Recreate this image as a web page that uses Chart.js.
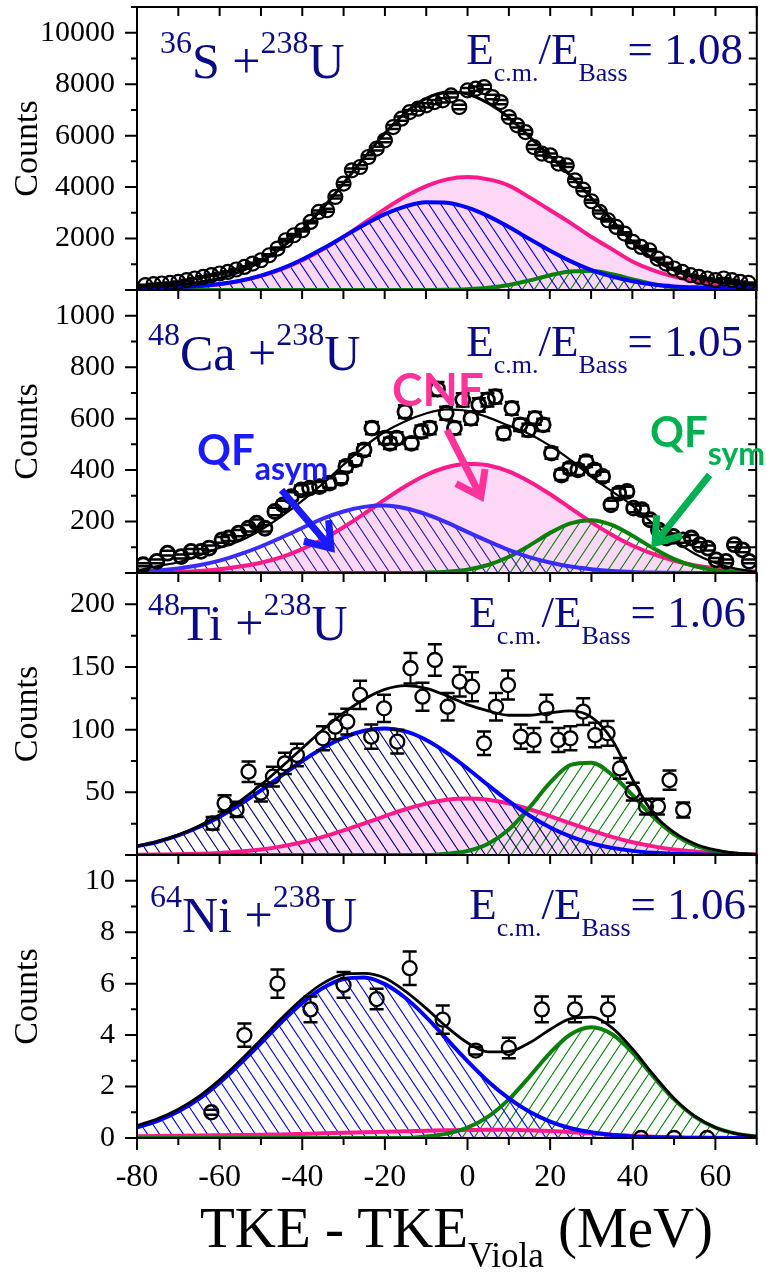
<!DOCTYPE html>
<html>
<head>
<meta charset="utf-8">
<title>TKE - TKE(Viola) distributions</title>
<script src="https://cdn.jsdelivr.net/npm/chart.js@4.4.1/dist/chart.umd.min.js"></script>
<style>
  html, body { margin: 0; padding: 0; background: #fff; }
  #page { position: relative; width: 766px; height: 1272px; overflow: hidden; }
  #page canvas { position: absolute; left: 0; }
  .txt { position: absolute; white-space: nowrap; line-height: 1; font-family: 'Liberation Serif', 'Times New Roman', serif; color: #0b0b85; }
  .tag { position: absolute; white-space: nowrap; line-height: 1; font-family: Lato, 'Open Sans', sans-serif; font-weight: 700; }
  .up { position: relative; }
</style>
</head>
<body>
<div id="page">
  <canvas id="c1"></canvas>
  <canvas id="c2"></canvas>
  <canvas id="c3"></canvas>
  <canvas id="c4"></canvas>

  <!-- reaction / energy labels -->
  <div class="txt" style="left:160px;top:36px;font-size:50px"><span class="up" style="font-size:32px;top:-25px">36</span>S +<span class="up" style="font-size:32px;top:-25px">238</span>U</div>
  <div class="txt" style="right:23px;top:27px;font-size:45px">E<span class="up" style="font-size:26px;top:17px">c.m.</span>/E<span class="up" style="font-size:26px;top:17px">Bass</span>= 1.08</div>

  <div class="txt" style="left:148px;top:328px;font-size:50px"><span class="up" style="font-size:32px;top:-25px">48</span>Ca +<span class="up" style="font-size:32px;top:-25px">238</span>U</div>
  <div class="txt" style="right:23px;top:319px;font-size:45px">E<span class="up" style="font-size:26px;top:17px">c.m.</span>/E<span class="up" style="font-size:26px;top:17px">Bass</span>= 1.05</div>

  <div class="txt" style="left:148px;top:598px;font-size:50px"><span class="up" style="font-size:32px;top:-25px">48</span>Ti +<span class="up" style="font-size:32px;top:-25px">238</span>U</div>
  <div class="txt" style="right:20px;top:590px;font-size:45px">E<span class="up" style="font-size:26px;top:17px">c.m.</span>/E<span class="up" style="font-size:26px;top:17px">Bass</span>= 1.06</div>

  <div class="txt" style="left:150px;top:890px;font-size:50px"><span class="up" style="font-size:32px;top:-25px">64</span>Ni +<span class="up" style="font-size:32px;top:-25px">238</span>U</div>
  <div class="txt" style="right:20px;top:882px;font-size:45px">E<span class="up" style="font-size:26px;top:17px">c.m.</span>/E<span class="up" style="font-size:26px;top:17px">Bass</span>= 1.06</div>

  <!-- component tags on the 48Ca panel -->
  <div class="tag" style="left:392px;top:366px;font-size:46px;color:#ff3399">CNF</div>
  <div class="tag" style="left:197px;top:428px;font-size:42px;color:#1a1aff">QF<span class="up" style="font-size:32px;top:15px">asym</span></div>
  <div class="tag" style="left:650px;top:410px;font-size:42px;color:#00b050">QF<span class="up" style="font-size:32px;top:18px">sym</span></div>

  <!-- x axis title -->
  <div class="txt" style="left:200px;top:1199px;font-size:57px;color:#000">TKE - TKE<span class="up" style="font-size:35px;top:20px">Viola</span> (MeV)</div>
</div>

<script>
// energy grid of the fitted curves, MeV
const fitX = [-80,-75,-70,-65,-60,-55,-50,-45,-40,-35,-30,-25,-20,-15,-10,-5,0,5,10,15,20,25,30,35,40,45,50,55,60,65,70];
const xTickLabels = [-80,-60,-40,-20,0,20,40,60];

// 36S + 238U
const s36X = [-78,-76,-74,-72,-70,-68,-66,-64,-62,-60,-58,-56,-54,-52,-50,-48,-46,-44,-42,-40,-38,-36,-34,-32,-30,-28,-26,-24,-22,-20,-18,-16,-14,-12,-10,-8,-6,-4,-2,0,2,4,6,8,10,12,14,16,18,20,22,24,26,28,30,32,34,36,38,40,42,44,46,48,50,52,54,56,58,60,62,64,66,68];
const s36Counts = [186,225,252,276,315,381,447,509,575,641,703,796,897,1029,1157,1351,1612,1934,2128,2322,2645,3033,3099,3616,4136,4652,4780,5169,5495,5817,6334,6660,6917,7049,7177,7305,7371,7565,7112,7759,7824,7888,7500,7305,6722,6400,6140,5557,5300,5235,4913,4847,4264,3900,3450,3033,2711,2451,2194,1868,1674,1546,1223,1029,835,703,575,509,447,381,447,381,315,276];
const s36Err = [14,15,16,17,18,20,21,23,24,25,27,28,30,32,34,37,40,44,46,48,51,55,56,60,64,68,69,72,74,76,80,82,83,84,85,85,86,87,84,88,88,89,87,85,82,80,78,75,73,72,70,70,65,62,59,55,52,50,47,43,41,39,35,32,29,27,24,23,21,20,21,20,18,17];
const s36Cnf = [50,65,95,145,225,355,547,812,1158,1582,2074,2608,3146,3640,4040,4300,4390,4300,4060,3600,3100,2600,2060,1580,1100,760,520,340,225,150,110];
const s36QfAsym = [60,80,110,155,230,360,560,832,1187,1611,2074,2537,2948,3252,3406,3389,3201,2873,2447,1981,1522,1111,771,520,340,210,140,105,90,80,70];
const s36QfSym = [0,0,0,0,0,0,0,0,0,0,0,0,0,0,2,8,29,84,196,373,576,723,738,613,413,227,101,37,11,3,0];
const s36Total = [110,145,205,300,455,715,1107,1644,2345,3193,4148,5145,6094,6892,7448,7697,7620,7257,6703,5954,5198,4434,3569,2713,1853,1197,761,482,326,233,180];
const s36YLabels = [2000,4000,6000,8000,10000];

// 48Ca + 238U
const ca48X = [-78.5,-75.2,-72.6,-69.3,-66.9,-64.5,-62.5,-59.4,-57.8,-55.4,-53,-51,-49,-46.6,-44.6,-42.6,-40.2,-38.2,-35.8,-33.4,-30.6,-29.4,-27.1,-25,-23.1,-19.9,-18.7,-17.1,-15.1,-13.5,-11.1,-9.1,-7.2,-5.1,-3.1,-1.1,0.9,2.8,4.9,6.8,8.8,10.8,12.8,14.8,16.4,18.4,20.4,22.8,24.8,26.8,28.8,30.8,32.8,34.8,36.7,38.7,40.3,42.3,44.3,46.3,48.3,49.9,52.3,54.3,56.3,58.3,60.3,62.7,64.7,66.7,68.3];
const ca48Counts = [32,45,77,64,84,84,97,129,136,155,174,194,174,239,265,297,323,330,336,349,368,414,440,478,563,524,504,524,627,504,550,563,715,621,563,673,601,653,673,685,543,640,576,556,601,576,466,381,407,401,433,401,375,265,310,317,252,246,207,168,136,142,129,136,110,97,51,45,110,90,45];
const ca48Err = [6,7,9,8,9,9,10,11,12,12,13,14,13,15,16,17,18,18,18,19,19,20,21,22,24,23,22,23,25,22,23,24,27,25,24,26,25,26,26,26,23,25,24,24,25,24,22,20,20,20,21,20,19,16,18,18,16,16,14,13,12,12,11,12,10,10,7,7,10,9,7];
const ca48Cnf = [1,2,4,8,15,25,40,62,93,131,178,230,285,337,381,411,425,419,395,356,307,252,198,149,107,74,48,30,18,10,6];
const ca48QfAsym = [5,10,18,30,48,73,103,138,175,211,239,257,262,252,229,197,160,124,90,62,41,25,15,8,4,2,1,0,0,0,0];
const ca48QfSym = [0,0,0,0,0,0,0,0,0,0,0,0,0,0,2,5,13,31,62,106,155,193,205,187,145,97,55,27,11,4,1];
const ca48Total = [10,27,42,68,98,125,167,220,280,347,420,490,548,590,620,636,630,605,573,540,495,440,375,318,262,192,130,76,40,17,5];
const ca48YLabels = [200,400,600,800,1000];
// arrows from the component tags, in (MeV, counts)
const ca48Arrows = [
  { x0: -45.0, y0: 323, x1: -33.0, y1: 97, color: '#1a1aff' },
  { x0: -4.9, y0: 556, x1: 3.3, y1: 297, color: '#ff3399' },
  { x0: 58.7, y0: 381, x1: 45.5, y1: 116, color: '#00b050' }
];

// 48Ti + 238U
const ti48X = [-61.7,-58.8,-55.9,-53,-50,-47.1,-44.2,-41.3,-35,-32,-29.1,-26,-23.3,-20.2,-17,-13.8,-10.9,-7.9,-4.8,-1.9,1.1,4,6.9,9.8,12.9,16,19.1,22,24.9,28,30.9,33.9,36.9,40,43.2,46.1,48.9,52.2];
const ti48Counts = [25.3,41.2,36.4,66.5,49.7,62.5,73.1,79.8,93.1,102.4,106.4,127.7,94.4,117,90.4,149,126.3,155.6,118.3,138.3,134.3,89.1,118.3,135.6,94.4,91.8,117,91.8,93.1,114.4,95.7,97.1,69.1,50.5,38.6,38.6,59.8,35.9];
const ti48Err = [5,6.4,6,8.2,7,7.9,8.5,8.9,9.6,10.1,10.3,11.3,9.7,10.8,9.5,12.2,11.2,12.5,10.9,11.8,11.6,9.4,10.9,11.6,9.7,9.6,10.8,9.6,9.6,10.7,9.8,9.9,8.3,7.1,6.2,6.2,7.7,6];
const ti48Cnf = [0.1,0.3,0.5,0.9,1.6,2.7,4.4,6.9,10.2,14.5,19.6,25.2,31.1,36.5,41,44,45,44,41,36.5,31.1,25.2,19.6,14.5,10.2,6.9,4.4,2.7,1.6,0.9,0.5];
const ti48QfAsym = [6.9,10.6,15.6,22.3,30.6,40.5,51.6,63.4,75,85.4,93.7,99.1,101,98.6,91.8,81.5,69,55.7,42.9,31.5,22,14.7,9.3,5.7,3.3,1.8,0.9,0.5,0.2,0.1,0];
const ti48QfSym = [0,0,0,0,0,0,0,0,0,0,0,0,0,0,0,1,3.2,9,20.3,37.9,57.7,71.9,73.6,63.9,47.5,30.2,16.4,7.6,3,1,0.3];
const ti48Total = [7,10.9,16.1,23.2,32.2,43.2,56,70.3,85.2,99.9,113.3,124.3,132.1,135.1,133,127,120,115,111.5,111.5,113.5,115,110,92,60,33,18,9,4,1.5,0.5];
const ti48YLabels = [50,100,150,200];

// 64Ni + 238U
const ni64X = [-62,-54,-46,-38,-30,-22,-14,-6,2,10,18,26,34,42,50,58];
const ni64Counts = [1,4,6,5,5.95,5.4,6.6,4.6,3.4,3.5,5,5,5,0,0,0];
const ni64Err = [0.1,0.45,0.55,0.5,0.5,0.4,0.65,0.55,0.15,0.4,0.5,0.5,0.5,0,0,0];
const ni64Cnf = [0.07,0.08,0.09,0.1,0.11,0.12,0.13,0.14,0.16,0.18,0.2,0.22,0.24,0.26,0.28,0.3,0.31,0.32,0.32,0.3,0.27,0.23,0.18,0.13,0.08,0.05,0.03,0.02,0.01,0,0];
const ni64QfAsym = [0.41,0.67,1.03,1.52,2.15,2.89,3.69,4.51,5.25,5.83,6.18,6.24,5.98,5.44,4.7,3.84,2.99,2.2,1.54,1.02,0.64,0.38,0.22,0.12,0.06,0.03,0.01,0,0,0,0];
const ni64QfSym = [0,0,0,0,0,0,0,0,0,0,0,0,0,0,0.06,0.17,0.4,0.83,1.5,2.38,3.31,4.03,4.3,4.03,3.31,2.38,1.5,0.83,0.4,0.17,0.06];
const ni64Total = [0.48,0.75,1.12,1.62,2.26,3.01,3.82,4.65,5.41,6.01,6.36,6.4,6.22,5.7,5.04,4.31,3.7,3.35,3.36,3.7,4.22,4.64,4.7,4.28,3.45,2.46,1.54,0.85,0.41,0.17,0.06];
const ni64YLabels = [0,2,4,6,8,10];

const SERIF = "'Liberation Serif', 'Times New Roman', serif";
const PAD = 14;

Chart.defaults.font.family = SERIF;
Chart.defaults.color = '#000';

function pts(xs, ys) {
  return xs.map((x, i) => ({ x: x, y: ys[i] }));
}

// diagonal line pattern used for the QF areas; dir > 0 gives '/', otherwise '\'
function hatch(color, dir) {
  const w = 12, h = 18;
  const c = document.createElement('canvas');
  c.width = w; c.height = h;
  const g = c.getContext('2d');
  g.strokeStyle = color;
  g.lineWidth = 1.1;
  g.beginPath();
  for (let k = -1; k <= 1; k++) {
    if (dir > 0) { g.moveTo(k * w, h); g.lineTo(k * w + w, 0); }
    else { g.moveTo(k * w, 0); g.lineTo(k * w + w, h); }
  }
  g.stroke();
  return g.createPattern(c, 'repeat');
}

function curve(ys, color, width, order, fill) {
  return {
    data: pts(fitX, ys),
    borderColor: color,
    borderWidth: width,
    pointRadius: 0,
    cubicInterpolationMode: 'monotone',
    fill: fill ? 'origin' : false,
    backgroundColor: fill || 'rgba(0,0,0,0)',
    order: order
  };
}

// frame, inward/outward ticks, error bars and arrows
const framePlugin = {
  id: 'frame',
  afterDatasetsDraw(chart, args, opts) {
    const { ctx, chartArea: a, scales: { x, y } } = chart;
    ctx.save();
    ctx.beginPath();
    ctx.rect(a.left, a.top, a.right - a.left, a.bottom - a.top);
    ctx.clip();
    ctx.strokeStyle = '#000';
    chart.data.datasets.forEach((ds, i) => {
      if (!ds.errors) return;
      const r = ds.pointRadius;
      chart.getDatasetMeta(i).data.forEach((pt, j) => {
        const e = ds.errors[j];
        if (!e) return;
        const v = ds.data[j].y;
        const hi = y.getPixelForValue(v + e);
        const lo = y.getPixelForValue(v - e);
        ctx.lineWidth = 2;
        ctx.beginPath();
        if (pt.y - hi > r) {
          ctx.moveTo(pt.x, pt.y - r); ctx.lineTo(pt.x, hi);
          ctx.moveTo(pt.x, pt.y + r); ctx.lineTo(pt.x, lo);
        }
        ctx.stroke();
        ctx.lineWidth = 2.5;
        ctx.beginPath();
        ctx.moveTo(pt.x - 7, hi); ctx.lineTo(pt.x + 7, hi);
        ctx.moveTo(pt.x - 7, lo); ctx.lineTo(pt.x + 7, lo);
        ctx.stroke();
      });
    });
    ctx.restore();

    (opts.arrows || []).forEach(ar => {
      const x0 = x.getPixelForValue(ar.x0), y0 = y.getPixelForValue(ar.y0);
      const x1 = x.getPixelForValue(ar.x1), y1 = y.getPixelForValue(ar.y1);
      const ang = Math.atan2(y1 - y0, x1 - x0);
      const L = 28, spread = 0.62;
      ctx.save();
      ctx.strokeStyle = ar.color;
      ctx.lineWidth = 7;
      ctx.lineJoin = 'miter';
      ctx.beginPath();
      ctx.moveTo(x0, y0); ctx.lineTo(x1 - 3 * Math.cos(ang), y1 - 3 * Math.sin(ang));
      ctx.moveTo(x1 - L * Math.cos(ang - spread), y1 - L * Math.sin(ang - spread));
      ctx.lineTo(x1, y1);
      ctx.lineTo(x1 - L * Math.cos(ang + spread), y1 - L * Math.sin(ang + spread));
      ctx.stroke();
      ctx.restore();
    });
  },
  afterDraw(chart, args, opts) {
    const { ctx, chartArea: a, scales: { x, y } } = chart;
    ctx.save();
    ctx.strokeStyle = '#000';
    ctx.lineWidth = 2;
    ctx.strokeRect(a.left, a.top, a.right - a.left, a.bottom - a.top);
    ctx.beginPath();
    x.ticks.forEach(t => {
      const px = x.getPixelForValue(t.value);
      ctx.moveTo(px, a.top); ctx.lineTo(px, a.top + 9);
      if (opts.bottomTicks) {
        ctx.moveTo(px, a.bottom); ctx.lineTo(px, a.bottom + (t.value % 20 === 0 ? 12 : 7));
      }
    });
    y.ticks.forEach(t => {
      const py = y.getPixelForValue(t.value);
      const major = t.value % opts.yMajor === 0;
      ctx.moveTo(a.left, py); ctx.lineTo(a.left - (major ? 12 : 6), py);
      ctx.moveTo(a.right, py); ctx.lineTo(a.right - 8, py);
    });
    ctx.stroke();
    ctx.restore();
  }
};

function makePanel(cfg) {
  const cv = document.getElementById(cfg.id);
  const h = cfg.last ? 1272 - (cfg.top - PAD) : cfg.bottom - cfg.top + 2 * PAD;
  cv.width = 766; cv.height = h;
  cv.style.width = '766px'; cv.style.height = h + 'px';
  cv.style.top = (cfg.top - PAD) + 'px';

  const xScale = {
    type: 'linear', min: -80, max: 70, display: !!cfg.last,
    grid: { display: false, drawTicks: false }, border: { display: false },
    ticks: {
      stepSize: 10, autoSkip: false, maxRotation: 0, padding: 20, color: '#000',
      font: { family: SERIF, size: 32 },
      callback: v => xTickLabels.includes(v) ? String(v) : ''
    }
  };
  if (cfg.last) {
    xScale.afterFit = s => { s.height = 1272 - cfg.bottom; s.paddingLeft = 0; s.paddingRight = 0; };
  }

  return new Chart(cv, {
    type: 'line',
    data: {
      datasets: [
        {
          data: pts(cfg.x, cfg.counts), errors: cfg.err, showLine: false,
          pointRadius: 7, pointHoverRadius: 7, pointBorderWidth: cfg.markWidth,
          pointBorderColor: '#000', pointBackgroundColor: 'rgba(0,0,0,0)', order: 0
        },
        curve(cfg.total, '#000', cfg.totalWidth, 1),
        curve(cfg.asym, cfg.asymLine, 4, 2, hatch(cfg.asymHatch, -1)),
        curve(cfg.sym, '#0a800a', 4, 3, hatch('#0a800a', 1)),
        curve(cfg.cnf, '#ff1a8c', 4, 4, '#fcd8f6')
      ]
    },
    options: {
      responsive: false, maintainAspectRatio: false, devicePixelRatio: 1,
      animation: false, events: [],
      layout: { padding: { top: PAD, bottom: cfg.last ? 0 : PAD, left: 0, right: 2 } },
      plugins: {
        legend: { display: false },
        tooltip: { enabled: false },
        filler: { drawTime: 'beforeDatasetsDraw' },
        frame: { yMajor: cfg.yMajor, bottomTicks: !!cfg.last, arrows: cfg.arrows || [] }
      },
      scales: {
        x: xScale,
        y: {
          min: 0, max: cfg.yMax,
          grid: { display: false, drawTicks: false }, border: { display: false },
          ticks: {
            stepSize: cfg.yStep, autoSkip: false, padding: 22, color: '#000',
            font: { family: SERIF, size: 30 },
            callback: v => cfg.yLabels.includes(v) ? String(v) : ''
          },
          title: {
            display: true, text: 'Counts', color: '#000',
            font: { family: SERIF, size: 34 }, padding: { top: 8, bottom: 0 }
          },
          afterFit: s => { s.width = 137; s.paddingTop = 0; s.paddingBottom = 0; }
        }
      }
    },
    plugins: [framePlugin]
  });
}

makePanel({ id: 'c1', top: 7, bottom: 290, yMax: 11000, yStep: 1000, yMajor: 2000, yLabels: s36YLabels,
  x: s36X, counts: s36Counts, err: s36Err, cnf: s36Cnf, asym: s36QfAsym, sym: s36QfSym, total: s36Total,
  asymLine: '#0000ff', asymHatch: '#0000e6', markWidth: 2.2, totalWidth: 3 });

makePanel({ id: 'c2', top: 290, bottom: 573, yMax: 1100, yStep: 100, yMajor: 200, yLabels: ca48YLabels,
  x: ca48X, counts: ca48Counts, err: ca48Err, cnf: ca48Cnf, asym: ca48QfAsym, sym: ca48QfSym, total: ca48Total,
  asymLine: '#3a2cff', asymHatch: '#2a1f9e', markWidth: 2.8, totalWidth: 2.2, arrows: ca48Arrows });

makePanel({ id: 'c3', top: 573, bottom: 855, yMax: 225, yStep: 25, yMajor: 50, yLabels: ti48YLabels,
  x: ti48X, counts: ti48Counts, err: ti48Err, cnf: ti48Cnf, asym: ti48QfAsym, sym: ti48QfSym, total: ti48Total,
  asymLine: '#0000ff', asymHatch: '#00007a', markWidth: 2.3, totalWidth: 2.8 });

makePanel({ id: 'c4', top: 855, bottom: 1138, yMax: 11, yStep: 1, yMajor: 2, yLabels: ni64YLabels, last: true,
  x: ni64X, counts: ni64Counts, err: ni64Err, cnf: ni64Cnf, asym: ni64QfAsym, sym: ni64QfSym, total: ni64Total,
  asymLine: '#0000ff', asymHatch: '#0000ff', markWidth: 2.3, totalWidth: 2.8 });
</script>
</body>
</html>
